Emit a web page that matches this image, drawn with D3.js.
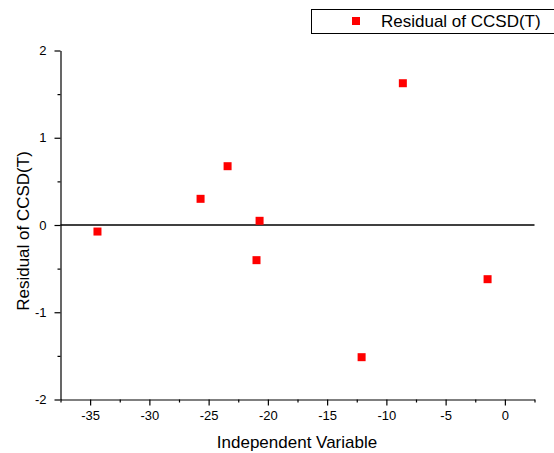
<!DOCTYPE html>
<html><head><meta charset="utf-8">
<script src="https://cdn.jsdelivr.net/npm/d3@7"></script>
<style>body{margin:0;background:#fff}svg{display:block}text{font-family:"Liberation Sans",Arial,sans-serif}</style>
</head><body>
<script>
const xValues = [-34.38, -25.68, -23.40, -20.70, -20.96, -8.61, -12.09, -1.46];
const yValues = [-0.075, 0.30, 0.674, 0.048, -0.403, 1.625, -1.515, -0.621];
const xTicks = [-35, -30, -25, -20, -15, -10, -5, 0];
const yTicks = [-2, -1, 0, 1, 2];
const seriesName = "Residual of CCSD(T)";

const W = 554, H = 453;
const svg = d3.select("body").append("svg").attr("width", W).attr("height", H);
const x = d3.scaleLinear().domain([-37.5, 2.5]).range([60.5, 534.5]);
const y = d3.scaleLinear().domain([-2, 2]).range([399.5, 50.5]);

const xMinor = d3.range(-37.5, 2.6, 2.5).filter(v => !xTicks.includes(v));
const yMinor = d3.range(-2, 2.01, 0.5).filter(v => !yTicks.includes(v));

// X axis
const gx = svg.append("g").attr("transform", `translate(0,${y(-2)})`);
gx.append("g").call(d3.axisBottom(x).tickValues(xMinor).tickSize(3).tickFormat(""))
  .call(g => g.select(".domain").remove());
gx.append("g").call(d3.axisBottom(x).tickValues(xTicks).tickSize(6).tickSizeOuter(0).tickPadding(5).tickFormat(d => d))
  .call(g => g.selectAll("text").attr("font-size", 13).attr("fill", "#000"));
gx.selectAll("line,path").attr("stroke", "#000").attr("stroke-width", 1.2);

// Y axis
const gy = svg.append("g").attr("transform", `translate(${x(-37.5)},0)`);
gy.append("g").call(d3.axisLeft(y).tickValues(yMinor).tickSize(3).tickFormat(""))
  .call(g => g.select(".domain").remove());
gy.append("g").call(d3.axisLeft(y).tickValues(yTicks).tickSize(6).tickSizeOuter(0).tickPadding(8).tickFormat(d => d))
  .call(g => g.selectAll("text").attr("font-size", 13).attr("fill", "#000"));
gy.selectAll("line,path").attr("stroke", "#000").attr("stroke-width", 1.2);

// zero line
svg.append("line").attr("x1", x(-37.5)).attr("x2", x(2.5)).attr("y1", y(0)).attr("y2", y(0))
  .attr("stroke", "#000").attr("stroke-width", 1.5);

// points
const s = 8;
svg.append("g").selectAll("rect").data(xValues.map((v, i) => [v, yValues[i]])).join("rect")
  .attr("x", d => x(d[0]) - s / 2).attr("y", d => y(d[1]) - s / 2)
  .attr("width", s).attr("height", s).attr("fill", "#ff0000");

// axis titles
svg.append("text").attr("x", 297).attr("y", 448).attr("text-anchor", "middle")
  .attr("font-size", 17).text("Independent Variable");
svg.append("text").attr("transform", `translate(29,231) rotate(-90)`).attr("text-anchor", "middle")
  .attr("font-size", 17).text("Residual of CCSD(T)");

// legend
svg.append("rect").attr("x", 311.5).attr("y", 9.5).attr("width", 250).attr("height", 24)
  .attr("fill", "none").attr("stroke", "#000").attr("stroke-width", 1);
svg.append("rect").attr("x", 352).attr("y", 17).attr("width", 8).attr("height", 8).attr("fill", "#ff0000");
svg.append("text").attr("x", 381).attr("y", 27).attr("font-size", 17).text(seriesName);
</script>
</body></html>
